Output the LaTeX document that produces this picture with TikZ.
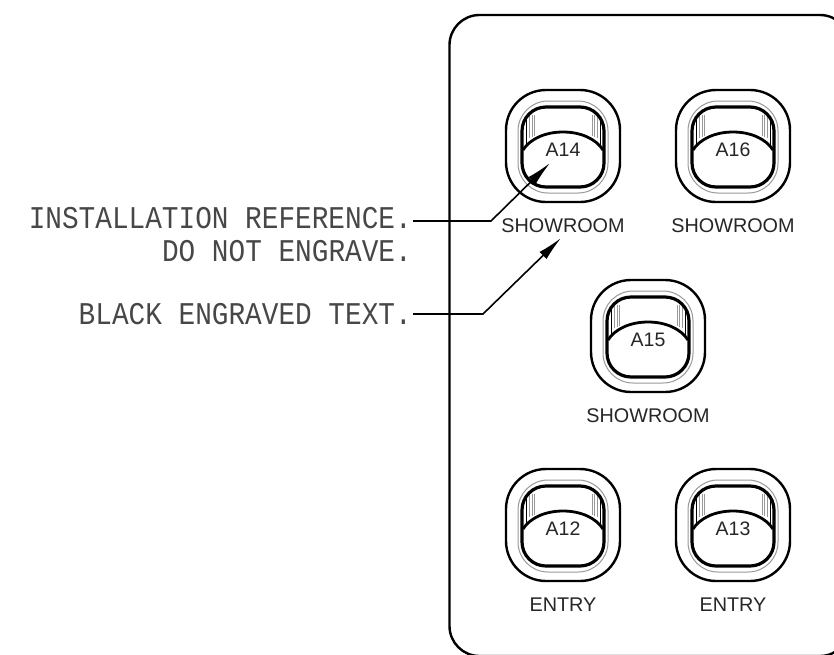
\documentclass[tikz,border=0pt]{standalone}
\usepackage{fontspec}
\setmainfont{Liberation Sans}
\newfontfamily\cadfont{Liberation Mono}
\usetikzlibrary{arrows.meta}
\tikzset{
  panel/.style={line width=2.4pt,rounded corners=30pt},
  bouter/.style={line width=2.4pt,rounded corners=40pt},
  bgrey/.style={line width=1pt,draw=black!40,rounded corners=30pt},
  binner/.style={line width=3.2pt,rounded corners=24pt},
  bknob/.style={line width=2.8pt},
  bwall/.style={line width=1pt},
  bhatch/.style={line width=.6pt,draw=black!40},
  idtext/.style={font=\fontsize{19.5}{19.5}\selectfont,inner sep=0pt,text=black!85},
  engrave/.style={font=\fontsize{19.8}{20}\selectfont,inner sep=0pt,text=black!85},
  callout/.style={font=\cadfont\fontsize{27.75}{27.75}\selectfont,inner sep=0pt,anchor=east,yscale=1.14,transform shape,text=black!72},
  leader/.style={line width=1.6pt},
  tip/.style={-{Latex[length=25pt,width=10pt]}}
}
\begin{document}
\begin{tikzpicture}[x=1pt,y=-1pt]
\useasboundingbox (0,0) rectangle (834,654);
\fill[white] (0,0) rectangle (834,654);
\draw[panel] (449.5,15) rectangle (850,656);
\foreach \cx/\cy/\idn/\lab/\laby in {563/146/A14/SHOWROOM/226,733/146/A16/SHOWROOM/226,648/336/A15/SHOWROOM/416,563/525/A12/ENTRY/605,733/525/A13/ENTRY/605}{
  \begin{scope}[shift={(\cx,\cy)}]
    \draw[bouter] (-57,-56) rectangle (57,56);
    \draw[bgrey] (-45,-45) rectangle (45,47);
    \foreach \hx/\hy in {-34/-8,-31/-9,-29/-10,29/-10,31/-9,34/-8}
      \draw[bhatch] (\hx,-31) -- (\hx,\hy);
    \draw[bwall] (-37,-26) -- (-37,0) (37,-26) -- (37,0);
    \draw[binner] (-41,-39) rectangle (41,41);
    \draw[bknob] (-40,4) .. controls (-33,-7) and (-18,-14) .. (0,-14)
       .. controls (18,-14) and (33,-7) .. (40,4);
    \node[idtext] (id\idn) at (0,4) {\idn};
    \node[engrave] (lab\idn) at (0,\laby-\cy) {\lab};
  \end{scope}
}
\node[callout] (inst) at (412,218) {INSTALLATION REFERENCE.};
\node[callout] (dont) at (412,251) {DO NOT ENGRAVE.};
\node[callout] (blk) at (412,314) {BLACK ENGRAVED TEXT.};
\coordinate (instS) at (413,221);
\coordinate (instB) at (491,221);
\coordinate (instT) at (550,163);
\coordinate (blkS) at (413,314);
\coordinate (blkB) at (483,314);
\coordinate (blkT) at (561,238);
\draw[leader,tip] (instS) -- (instB) -- (instT);
\draw[leader,tip] (blkS) -- (blkB) -- (blkT);
\end{tikzpicture}
\end{document}
